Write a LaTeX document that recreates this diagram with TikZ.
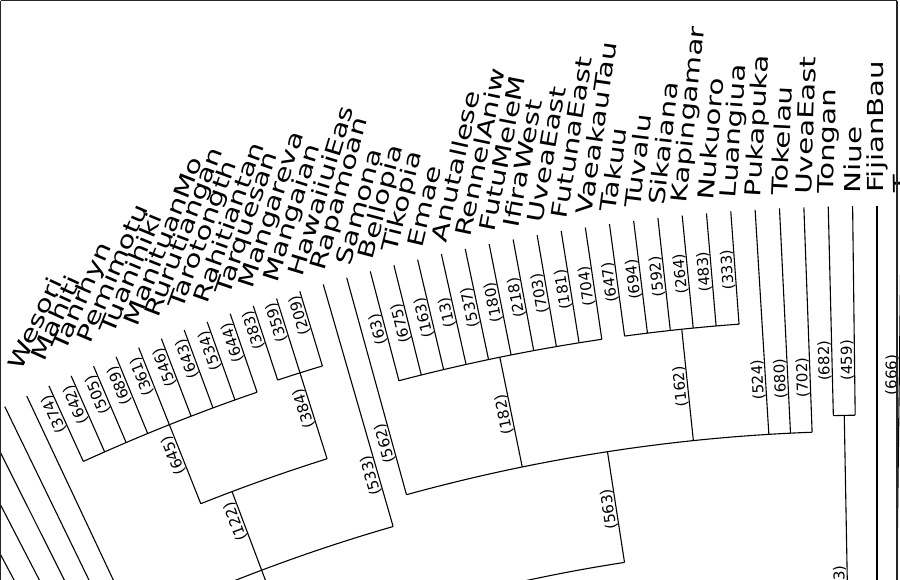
\documentclass[tikz,border=0pt]{standalone}
\usepackage{fontspec}
\setmainfont{DejaVu Sans}
\newfontfamily\lblfont[FakeStretch=1.33]{DejaVu Sans}
\newfontfamily\numfont{DejaVu Sans}
\def\D{0.7}
\def\CX{877}
\def\CY{2203}
\newcommand\setp[2]{\pgfmathsetmacro\px{\CX-(#2)*sin((#1)*\D)}\pgfmathsetmacro\py{-\CY+(#2)*cos((#1)*\D)}}
\newcommand\arcat[3]{\setp{#1}{#3}\pgfmathsetmacro\sa{90+(#1)*\D}\pgfmathsetmacro\ea{90+(#2)*\D}%
  \draw[branch] (\px,\py) arc[start angle=\sa, end angle=\ea, radius=#3];}
\tikzset{
  namelbl/.style={font=\lblfont\fontsize{22}{22}\selectfont, inner sep=0pt, anchor=west},
  numlbl/.style={font=\numfont\fontsize{15}{15}\selectfont, inner sep=0.5pt, anchor=south},
  branch/.style={line width=1.1pt, black}
}
\begin{document}
\begin{tikzpicture}[x=1pt,y=1pt]
\useasboundingbox (0,0) rectangle (900,-580);
\begin{scope}
\clip (0,0) rectangle (900,-580);
\fill[white] (0,0) rectangle (900,-580);
% leaves: k / name / inner radius
\foreach \k/\nm/\ri [count=\i] in {-1/T/1400, 0/FijianBau/1400, 1/Niue/1788, 2/Tongan/1788,
  3/UveaEast/1772, 4/Tokelau/1772, 5/Pukapuka/1772,
  6/Luangiua/1884, 7/Nukuoro/1884, 8/Kapingamar/1884, 9/Sikaiana/1884, 10/Tuvalu/1884, 11/Takuu/1884,
  12/VaeakauTau/1884, 13/FutunaEast/1884, 14/UveaEast/1884, 15/IfiraWest/1884, 16/FutuMeleM/1884,
  17/RennelAniw/1884, 18/Anutallese/1884, 19/Emae/1884, 20/Tikopia/1884, 21/Bellopia/1884,
  22/Samona/1772, 23/Rapamoan/1745, 24/HawaiiuiEas/1919, 25/Mangaian/1919, 26/Mangareva/1919,
  27/Tarquesan/1914, 28/Rahitiantan/1914, 29/Tarotongth/1914, 30/Rurutiangan/1914, 31/ManituanMo/1914,
  32/Tuanihiki/1914, 33/Pemimotu/1914, 34/Tanrhyn/1914, 35/Mahiti/1914, 36/Wesori/1700,
  37//1700, 38//1700, 39//1700, 40//1700}
{
  \setp{\k}{1997}
  \coordinate (tip\i) at (\px,\py);
  \setp{\k}{\ri}
  \coordinate (base\i) at (\px,\py);
  \draw[branch] (tip\i) -- (base\i);
  \pgfmathsetmacro\rl{2010+max(0,(\k)-21)*1.2}
  \setp{\k}{\rl}
  \pgfmathsetmacro\rot{90-(\k)*\D}
  \node[namelbl, rotate=\rot] (name\i) at (\px,\py) {\nm};
}
% internal stems: k / r outer / r inner
\foreach \k/\ro/\ri [count=\i] in {1.5/1788/1563, 8.5/1884/1772, 16.5/1884/1772, 12.5/1772/1660,
  31/1914/1829, 25/1919/1829, 29.5/1829/1745, 29.5/1745/1500}
{
  \setp{\k}{\ro}
  \coordinate (so\i) at (\px,\py);
  \setp{\k}{\ri}
  \coordinate (si\i) at (\px,\py);
  \draw[branch] (so\i) -- (si\i);
}
% arcs
\arcat{1}{2}{1788}
\arcat{3}{22}{1772}
\arcat{12}{21}{1884}
\arcat{6}{11}{1884}
\arcat{27}{35}{1914}
\arcat{25}{31}{1829}
\arcat{24}{26}{1919}
\arcat{23}{38}{1745}
\arcat{12.5}{32}{1660}
% branch length labels: k / text / inner radius
\foreach \k/\t/\ri [count=\i] in {-1/666/1773, 1/459/1788, 2/682/1788, 3/702/1772, 4/680/1772, 5/524/1772,
  6/333/1884, 7/483/1884, 8/264/1884, 9/592/1884, 10/694/1884, 11/647/1884,
  12/704/1884, 13/181/1884, 14/703/1884, 15/218/1884, 16/180/1884, 17/537/1884, 18/13/1884,
  19/163/1884, 20/675/1884, 21/63/1884, 22/562/1772, 23/533/1745, 24/209/1919, 25/359/1919,
  26/383/1919, 27/644/1914, 28/534/1914, 29/643/1914, 30/546/1914, 31/361/1914, 32/689/1914,
  33/505/1914, 34/642/1914, 35/374/1914,
  1.5/583/1563, 8.5/162/1772, 16.5/182/1772, 12.5/563/1660, 31/645/1829, 25/384/1829, 29.5/122/1745}
{
  \setp{\k}{\ri+55}
  \pgfmathsetmacro\rot{90+(\k)*\D}
  \node[numlbl, rotate=\rot] (num\i) at (\px,\py) {(\t)};
}
\draw[line width=1.2pt, black!85] (0.6,-0.6) -- (897,-0.6);
\draw[line width=1.2pt, black!85] (0.6,-0.6) -- (0.6,-580);
\draw[line width=1.2pt, black!85] (897,-0.6) -- (897,-580);
\end{scope}
\end{tikzpicture}
\end{document}
